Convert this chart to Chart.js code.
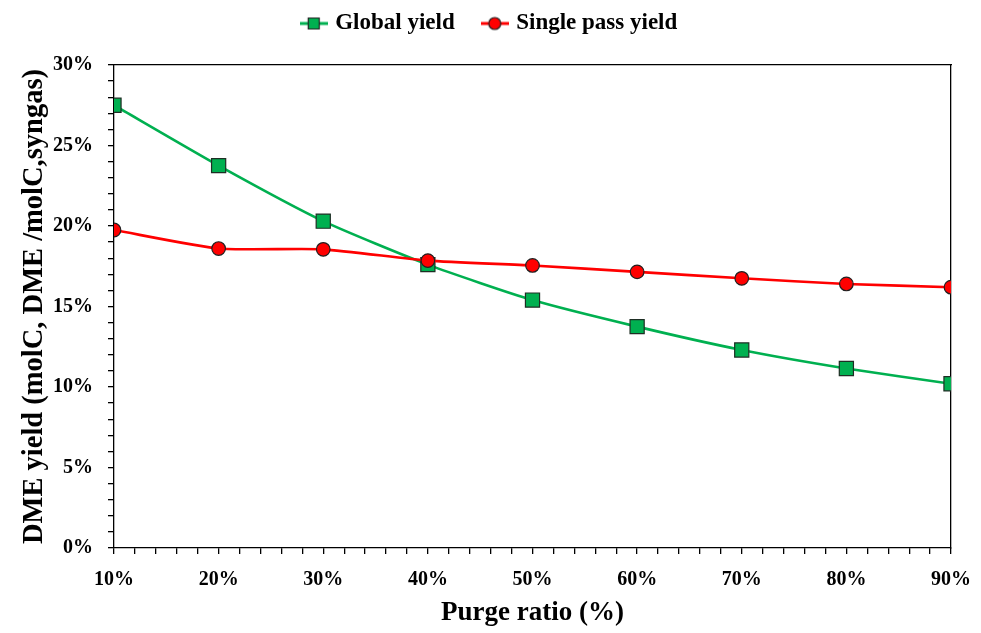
<!DOCTYPE html>
<html>
<head>
<meta charset="utf-8">
<script src="https://cdn.jsdelivr.net/npm/chart.js@4.4.0/dist/chart.umd.min.js"></script>
<style>
  html, body { margin: 0; padding: 0; background: #fff; }
  #wrap { width: 981px; height: 633px; }
</style>
</head>
<body>
<div id="wrap"><canvas id="yieldChart"></canvas></div>
<script>
// values
var purgeRatio = [10, 20, 30, 40, 50, 60, 70, 80, 90];
var globalYield = [27.5, 23.75, 20.3, 17.6, 15.4, 13.75, 12.3, 11.15, 10.2];
var singlePassYield = [19.75, 18.6, 18.55, 17.85, 17.55, 17.15, 16.75, 16.4, 16.2];
var seriesNames = ['Global yield', 'Single pass yield'];

var serif = "'Liberation Serif', 'DejaVu Serif', serif";
var green = '#00b050';
var red = '#ff0000';

function toPoints(ys) {
    return purgeRatio.map(function(x, i) { return {x: x, y: ys[i]}; });
}

// little line + marker picture for the legend
function legendIcon(color, shape) {
    var c = document.createElement('canvas');
    c.width = 28; c.height = 16;
    var g = c.getContext('2d');
    g.strokeStyle = color; g.lineWidth = 3;
    g.beginPath(); g.moveTo(0, 8); g.lineTo(28, 8); g.stroke();
    g.fillStyle = color; g.strokeStyle = '#202020'; g.lineWidth = 1.2;
    g.beginPath();
    if (shape === 'rect') g.rect(8.5, 2.5, 11, 11);
    else g.arc(14, 8, 6, 0, Math.PI * 2);
    g.fill(); g.stroke();
    return c;
}
var icons = [legendIcon(green, 'rect'), legendIcon(red, 'circle')];

var ctx = document.getElementById('yieldChart').getContext('2d');
new Chart(ctx, {
    type: 'line',
    data: {
        datasets: [{
            label: seriesNames[0],
            data: toPoints(globalYield),
            borderColor: green,
            backgroundColor: green,
            borderWidth: 2.6,
            pointStyle: 'rect',
            pointRadius: 10,
            pointBorderColor: '#1e2e24',
            pointBorderWidth: 1.2,
            tension: 0.2,
            order: 2
        }, {
            label: seriesNames[1],
            data: toPoints(singlePassYield),
            borderColor: red,
            backgroundColor: red,
            borderWidth: 2.6,
            pointStyle: 'circle',
            pointRadius: 6.8,
            pointBorderColor: '#202020',
            pointBorderWidth: 1.2,
            tension: 0.2,
            order: 1
        }]
    },
    options: {
        responsive: true,
        maintainAspectRatio: false,
        animation: false,
        layout: { padding: { top: -18, left: 0, right: 0, bottom: 0 } },
        plugins: {
            tooltip: { enabled: false },
            legend: {
                position: 'top',
                labels: {
                    usePointStyle: true,
                    pointStyleWidth: 20,
                    boxHeight: 16,
                    padding: 30,
                    color: '#000',
                    font: { family: serif, size: 23, weight: 'bold' },
                    sort: function(a, b) { return a.datasetIndex - b.datasetIndex; },
                    generateLabels: function(chart) {
                        var items = Chart.defaults.plugins.legend.labels.generateLabels(chart);
                        items.forEach(function(it) { it.pointStyle = icons[it.datasetIndex]; });
                        return items;
                    }
                }
            }
        },
        scales: {
            x: {
                type: 'linear',
                position: 'bottom',
                min: 10, max: 90,
                afterFit: function(s) { s.height = 85; s.paddingLeft = 0; s.paddingRight = 0; },
                border: { color: '#000', width: 1.3 },
                grid: { drawOnChartArea: false, drawTicks: true, tickLength: 6, color: '#000', lineWidth: 1.3 },
                ticks: {
                    stepSize: 2, autoSkip: false, maxRotation: 0, padding: 14,
                    color: '#000',
                    font: { family: serif, size: 20, weight: 'bold' },
                    callback: function(v) { return v % 10 === 0 ? v + '%' : ''; }
                },
                title: {
                    display: true, text: 'Purge ratio (%)', color: '#000',
                    font: { family: serif, size: 27, weight: 'bold' },
                    padding: { top: 0, bottom: 4 }
                }
            },
            xTop: {
                type: 'linear', position: 'top', min: 10, max: 90,
                afterFit: function(s) { s.height = 20; s.paddingLeft = 0; s.paddingRight = 0; },
                border: { color: '#000', width: 1.3 },
                grid: { drawOnChartArea: false, drawTicks: false },
                ticks: { display: false }
            },
            y: {
                position: 'left',
                min: 0, max: 30,
                afterFit: function(s) { s.width = 114; },
                border: { color: '#000', width: 1.3 },
                grid: { drawOnChartArea: false, drawTicks: true, tickLength: 6, color: '#000', lineWidth: 1.3 },
                ticks: {
                    stepSize: 1, autoSkip: false, padding: 15,
                    color: '#000',
                    font: { family: serif, size: 20, weight: 'bold' },
                    callback: function(v) { return v % 5 === 0 ? v + '%' : ''; }
                },
                title: {
                    display: true, text: 'DME yield (molC, DME /molC,syngas)', color: '#000',
                    font: { family: serif, size: 28.5, weight: 'bold' },
                    padding: { top: 18, bottom: 0 }
                }
            },
            yRight: {
                position: 'right', min: 0, max: 30,
                afterFit: function(s) { s.width = 30; },
                border: { color: '#000', width: 1.3 },
                grid: { drawOnChartArea: false, drawTicks: false },
                ticks: { display: false }
            }
        }
    }
});
</script>
</body>
</html>
